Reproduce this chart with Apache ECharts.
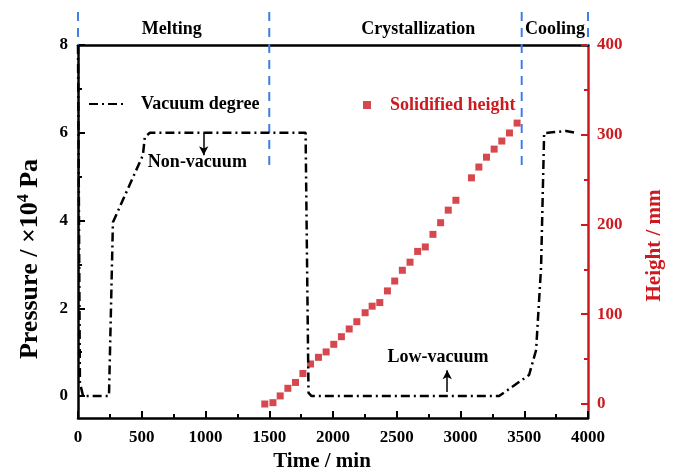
<!DOCTYPE html>
<html>
<head>
<meta charset="utf-8">
<script src="https://cdn.jsdelivr.net/npm/echarts@6/dist/echarts.min.js"></script>
<style>
	html, body { margin: 0; padding: 0; background: #fff; }
	#line { width: 674px; height: 473px; }
</style>
</head>
<body>
<div id="line"></div>
<script>
	// vacuum degree (left axis, x10^4 Pa)
	var vacTime = [0, 15, 40, 243, 274, 509, 524, 564, 1785, 1808, 1832, 3303, 3538, 3593, 3632, 3656, 3718, 3828, 3914];
	var vacPressure = [8, 0.3, 0, 0, 3.96, 5.49, 5.9, 6.0, 6.0, 0.07, 0, 0, 0.48, 1.05, 2.94, 5.99, 6.01, 6.04, 5.99];
	// solidified height (right axis, mm)
	var heightTime = [1465, 1529, 1586, 1646, 1706, 1764, 1824, 1886, 1946, 2006, 2066, 2127, 2187, 2252, 2307, 2367, 2427,
		2484, 2544, 2604, 2664, 2724, 2784, 2844, 2904, 2964, 3086, 3144, 3204, 3264, 3324, 3384, 3444];
	var heightValue = [0, 1.5, 9, 17.5, 24, 34, 44.6, 52, 58, 66.5, 75, 83.6, 91.7, 101.7, 109, 113, 126,
		137, 149, 158, 170, 175, 189, 202, 216, 227, 252, 264, 275, 284, 293, 302, 313];
	// phase boundaries (time, top, bottom in pressure units)
	var phaseTime = [0, 1500, 3480, 4000];
	var phaseTop = [8.75, 8.75, 8.75, 8.75];
	var phaseBottom = [8.0, 5.2, 5.2, 8.0];
	// text notes
	var noteText = ['Melting', 'Crystallization', 'Cooling', 'Non-vacuum', 'Low-vacuum'];
	var noteTime = [736, 2669, 3742, 548, 2427];
	var notePressure = [8.36, 8.36, 8.36, 5.33, 0.89];
	var noteAlign = ['center', 'center', 'center', 'left', 'left'];
	// arrows (time, from, to)
	var arrowTime = [986, 2896];
	var arrowFrom = [6.0, 0.09];
	var arrowTo = [5.49, 0.59];

	var leftTicks = [0, 2, 4, 6, 8];
	var leftMinor = [1, 3, 5, 7];
	var rightTicks = [0, 100, 200, 300, 400];
	var rightMinor = [50, 150, 250, 350];

	var FONT = '"Liberation Serif", "Times New Roman", serif';
	var RED = '#cc1a20';

	var vacData = [], hData = [], phaseData = [], noteData = [], arrowData = [];
	for (var i = 0; i < vacTime.length; i++) vacData.push([vacTime[i], vacPressure[i]]);
	for (var i = 0; i < heightTime.length; i++) hData.push([heightTime[i], heightValue[i]]);
	for (var i = 0; i < phaseTime.length; i++) phaseData.push([phaseTime[i], phaseTop[i], phaseBottom[i]]);
	for (var i = 0; i < noteText.length; i++) noteData.push([noteTime[i], notePressure[i]]);
	for (var i = 0; i < arrowTime.length; i++) {
		arrowData.push([{ coord: [arrowTime[i], arrowFrom[i]] }, { coord: [arrowTime[i], arrowTo[i]] }]);
	}

	function $extend(a, b) {
		var o = {}, k;
		for (k in a) o[k] = a[k];
		for (k in b) o[k] = b[k];
		return o;
	}
	var plain = function (v) { return String(v); };
	var tickLabel = { fontFamily: FONT, fontWeight: 'bold', fontSize: 17, color: '#000', formatter: plain };

	var config = {
		animation: false,
		grid: { left: 78, right: 86, top: 45, bottom: 55, outerBoundsMode: 'none', containLabel: false },
		legend: [{
			left: 88, top: 95, padding: 0, itemWidth: 37, itemHeight: 14,
			data: [{ name: 'Vacuum degree', itemStyle: { color: 'rgba(0,0,0,0)', borderWidth: 0 } }],
			textStyle: { fontFamily: FONT, fontWeight: 'bold', fontSize: 18, color: '#000', padding: [0, 0, 0, 10] }
		}, {
			left: 363, top: 96, padding: 0, itemWidth: 8, itemHeight: 8,
			data: [{ name: 'Solidified height', icon: 'rect' }],
			textStyle: { fontFamily: FONT, fontWeight: 'bold', fontSize: 18, color: RED, padding: [0, 0, 0, 14] }
		}],
		xAxis: [{
			type: 'value', min: 0, max: 4000, interval: 500,
			name: 'Time / min', nameLocation: 'middle', nameGap: 33,
			nameTextStyle: { fontFamily: FONT, fontWeight: 'bold', fontSize: 21, color: '#000', padding: [0, 22, 0, 0] },
			axisLine: { onZero: false, lineStyle: { color: '#000', width: 2.5 } },
			axisTick: { inside: true, length: 7, lineStyle: { color: '#000', width: 2 } },
			minorTick: { show: true, splitNumber: 2, length: 4, lineStyle: { color: '#000', width: 2 } },
			axisLabel: $extend(tickLabel, { margin: 11 }),
			splitLine: { show: false }
		}, {
			type: 'value', min: 0, max: 4000, position: 'top',
			axisLine: { show: true, onZero: false, lineStyle: { color: '#000', width: 2.5 } },
			axisTick: { show: false }, axisLabel: { show: false }, splitLine: { show: false }
		}],
		yAxis: [{
			type: 'value', min: -0.5, max: 8, position: 'left',
			name: 'Pressure / ×10{sup|4} Pa', nameLocation: 'middle', nameGap: 33, nameRotate: 90,
			nameTextStyle: {
				fontFamily: FONT, fontWeight: 'bold', fontSize: 26, color: '#000', padding: [0, 55, 0, 0],
				rich: { sup: { fontFamily: FONT, fontWeight: 'bold', fontSize: 16, color: '#000', verticalAlign: 'bottom', padding: [0, 0, 13, 0] } }
			},
			axisLine: { show: true, onZero: false, lineStyle: { color: '#000', width: 2.5 } },
			axisTick: { inside: true, length: 7, customValues: leftTicks, lineStyle: { color: '#000', width: 2 } },
			axisLabel: $extend(tickLabel, { margin: 10, customValues: leftTicks }),
			splitLine: { show: false }
		}, {
			type: 'value', min: -15.6, max: 400, position: 'right',
			name: 'Height / mm', nameLocation: 'middle', nameGap: 56, nameRotate: 90,
			nameTextStyle: { fontFamily: FONT, fontWeight: 'bold', fontSize: 21, color: RED, padding: [0, 28, 0, 0] },
			axisLine: { show: true, onZero: false, lineStyle: { color: RED, width: 2.5 } },
			axisTick: { inside: true, length: 7, customValues: rightTicks, lineStyle: { color: RED, width: 2 } },
			axisLabel: $extend(tickLabel, { margin: 9, color: RED, customValues: rightTicks }),
			splitLine: { show: false }
		}, {
			type: 'value', min: -0.5, max: 8, position: 'left', offset: 0,
			axisLine: { show: false, onZero: false },
			axisTick: { show: true, inside: true, length: 4, customValues: leftMinor, lineStyle: { color: '#000', width: 2 } },
			axisLabel: { show: false }, splitLine: { show: false }
		}, {
			type: 'value', min: -15.6, max: 400, position: 'right', offset: 0,
			axisLine: { show: false, onZero: false },
			axisTick: { show: true, inside: true, length: 4, customValues: rightMinor, lineStyle: { color: RED, width: 2 } },
			axisLabel: { show: false }, splitLine: { show: false }
		}],
		series: [{
			name: 'phase', type: 'custom', xAxisIndex: 0, yAxisIndex: 0, silent: true,
			data: phaseData,
			encode: { x: 0, y: 1 },
			renderItem: function (params, api) {
				var p1 = api.coord([api.value(0), api.value(1)]);
				var p2 = api.coord([api.value(0), api.value(2)]);
				return {
					type: 'line',
					shape: { x1: p1[0], y1: p1[1], x2: p2[0], y2: p2[1] },
					style: { stroke: '#3f7fe3', lineWidth: 2, lineDash: [9, 7] }
				};
			}
		}, {
			name: 'Vacuum degree', type: 'line', xAxisIndex: 0, yAxisIndex: 0,
			data: vacData, symbol: 'none', smooth: false,
			lineStyle: { color: '#000', width: 2.5, type: [9, 4, 2, 4] },
			itemStyle: { color: '#000' },
			markLine: {
				silent: true, symbol: ['none', 'arrow'], symbolSize: [7, 9],
				label: { show: false },
				lineStyle: { color: '#000', width: 1.5, type: 'solid' },
				data: arrowData
			}
		}, {
			name: 'Solidified height', type: 'scatter', xAxisIndex: 0, yAxisIndex: 1,
			data: hData, symbol: 'rect', symbolSize: 7,
			itemStyle: { color: RED }
		}, {
			name: 'notes', type: 'custom', xAxisIndex: 0, yAxisIndex: 0, silent: true,
			data: noteData,
			encode: { x: 0, y: 1 },
			renderItem: function (params, api) {
				var p = api.coord([api.value(0), api.value(1)]);
				return {
					type: 'text',
					x: p[0], y: p[1],
					style: {
						text: noteText[params.dataIndex],
						fontFamily: FONT, fontWeight: 'bold', fontSize: 18, fill: '#000',
						align: noteAlign[params.dataIndex], verticalAlign: 'middle'
					}
				};
			}
		}]
	};

	var myChart = echarts.init(document.getElementById('line'));
	myChart.setOption(config);
</script>
</body>
</html>
